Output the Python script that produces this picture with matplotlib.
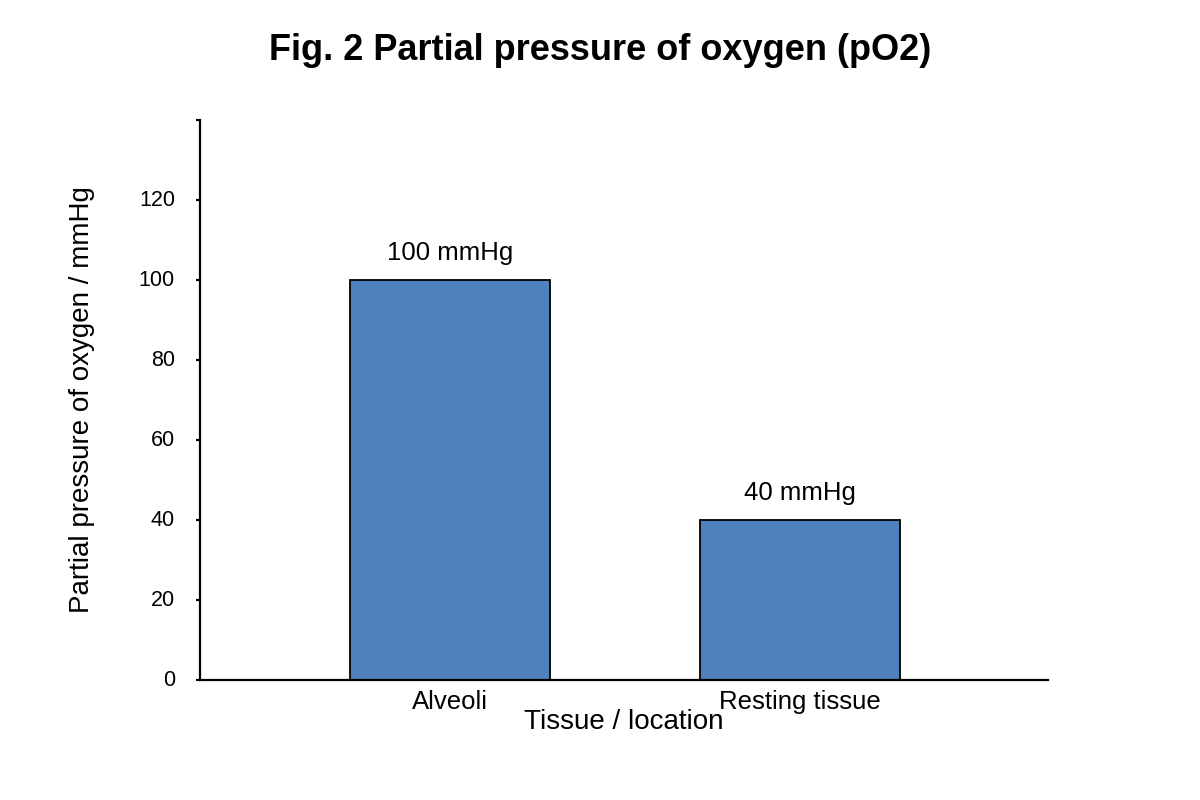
import matplotlib
matplotlib.use("Agg")
import matplotlib.pyplot as plt
import matplotlib.transforms as mtransforms

plt.rcParams["font.family"] = ["Liberation Sans", "DejaVu Sans"]

locations = ["Alveoli", "Resting tissue"]
po2_mmhg = [100, 40]
y_ticks = [0, 20, 40, 60, 80, 100, 120, 140]
y_tick_labels = ["0", "20", "40", "60", "80", "100", "120", ""]

BAR_COLOR = "#4F81BD"

fig = plt.figure(figsize=(12, 8), dpi=100)
ax = fig.add_axes([200 / 1200, 0.15, 848 / 1200, 0.70])

x = list(range(len(locations)))
bars = ax.bar(x, po2_mmhg, width=0.571, color=BAR_COLOR,
              edgecolor="black", linewidth=1.3)
ax.bar_label(bars, labels=[f"{v} mmHg" for v in po2_mmhg],
             padding=11, fontsize=18.5)

ax.set_xlim(-0.714, 1.709)
ax.set_ylim(0, 140)
ax.set_xticks(x)
ax.set_xticklabels(locations, fontsize=18.5)
ax.set_yticks(y_ticks)
ax.set_yticklabels(y_tick_labels, fontsize=15.5)
ax.tick_params(axis="x", length=0, pad=7.5)
ax.tick_params(axis="y", direction="out", length=3, width=1.5, pad=15)

# nudge y tick labels up slightly, as in the original
lift = mtransforms.ScaledTranslation(0, 2 / 100, fig.dpi_scale_trans)
for lbl in ax.get_yticklabels():
    lbl.set_transform(lbl.get_transform() + lift)

for side in ("top", "right"):
    ax.spines[side].set_visible(False)
for side in ("left", "bottom"):
    ax.spines[side].set_linewidth(1.6)

ax.set_xlabel("Tissue / location", fontsize=20, va="center")
ax.xaxis.set_label_coords(0.5, -0.075)
ax.set_ylabel("Partial pressure of oxygen / mmHg", fontsize=20, va="center")
ax.yaxis.set_label_coords(-0.139, 0.5)

fig.text(0.5, 1 - 50 / 800, "Fig. 2 Partial pressure of oxygen (pO2)",
         ha="center", va="center", fontsize=26, fontweight="bold")

fig.savefig("out.png", dpi=100)
